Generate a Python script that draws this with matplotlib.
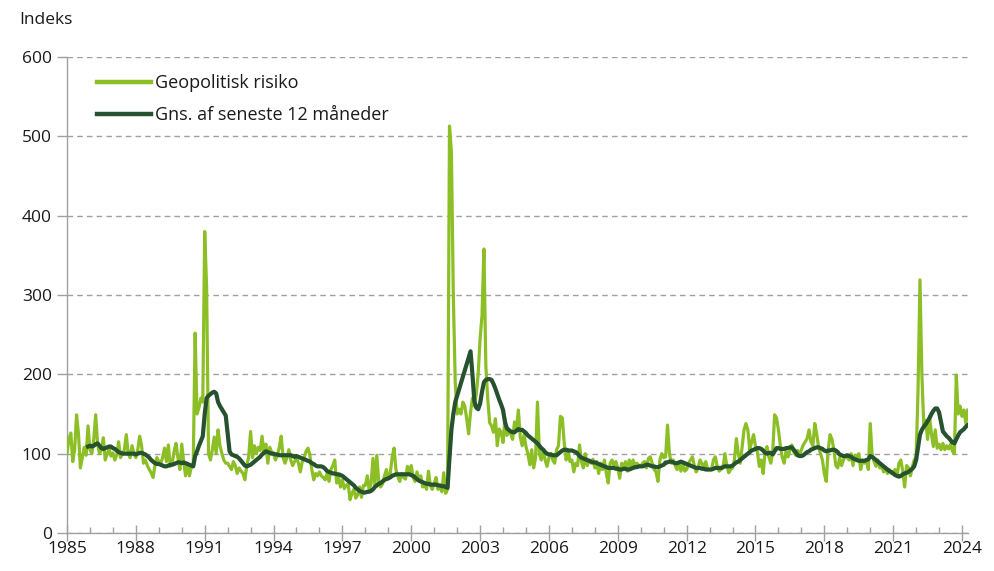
import numpy as np
import matplotlib
matplotlib.use("Agg")
import matplotlib.pyplot as plt
from matplotlib.ticker import MultipleLocator

plt.rcParams['font.family'] = ['Open Sans', 'DejaVu Sans']

start_year = 1985
label_risk = "Geopolitisk risiko"
label_avg = "Gns. af seneste 12 måneder"
y_label = "Indeks"

# Monthly index, Jan 1985 - Apr 2024
risk_1985_1994 = [
    100, 118, 126, 90, 105, 149, 125, 82, 95, 108, 98, 135,
    105, 100, 118, 149, 112, 100, 105, 120, 92, 100, 106, 97,
    101, 92, 98, 115, 95, 100, 105, 124, 100, 95, 110, 100,
    95, 105, 122, 110, 88, 92, 85, 80, 76, 70, 85, 95,
    90, 88, 95, 107, 90, 111, 84, 88, 103, 113, 95, 80,
    112, 90, 72, 88, 72, 83, 85, 252, 150, 158, 170, 165,
    380, 310, 100, 92, 105, 121, 100, 130, 110, 100, 92, 88,
    88, 84, 80, 90, 85, 75, 82, 78, 75, 67, 85, 96,
    128, 95, 110, 100, 108, 104, 122, 100, 112, 88, 108, 102,
    100, 92, 98, 108, 122, 95, 88, 95, 105, 92, 85, 90,
]
risk_1995_2004 = [
    95, 88, 77, 90, 95, 103, 107, 98, 80, 67, 75, 72,
    77, 72, 70, 67, 75, 65, 80, 85, 92, 63, 70, 58,
    67, 56, 60, 62, 42, 50, 55, 44, 48, 58, 45, 60,
    60, 72, 55, 62, 94, 60, 98, 65, 58, 62, 72, 80,
    68, 75, 95, 107, 80, 71, 65, 75, 70, 68, 84, 75,
    85, 70, 65, 77, 68, 72, 58, 62, 55, 78, 60, 55,
    62, 70, 55, 60, 52, 76, 50, 55, 513, 480, 300, 190,
    150, 156, 150, 165, 160, 144, 125, 152, 170, 160, 175, 200,
    245, 274, 358, 211, 169, 139, 135, 127, 144, 110, 131, 127,
    114, 144, 123, 130, 125, 118, 140, 130, 155, 121, 110, 124,
]
risk_2005_2014 = [
    109, 100, 86, 105, 82, 95, 165, 100, 92, 105, 92, 84,
    95, 100, 92, 88, 105, 110, 147, 145, 113, 92, 105, 90,
    92, 77, 88, 85, 111, 90, 82, 100, 85, 92, 88, 93,
    82, 90, 75, 88, 80, 92, 75, 63, 88, 92, 85, 90,
    82, 69, 88, 82, 90, 78, 92, 84, 92, 84, 88, 85,
    84, 88, 90, 82, 94, 96, 88, 80, 77, 65, 92, 100,
    95, 96, 136, 100, 88, 92, 85, 80, 88, 78, 88, 78,
    80, 88, 92, 96, 85, 77, 82, 92, 88, 82, 90, 80,
    80, 80, 92, 96, 84, 78, 80, 82, 100, 85, 76, 80,
    82, 92, 119, 100, 88, 108, 130, 138, 130, 105, 115, 124,
]
risk_2015_2024 = [
    109, 102, 84, 92, 75, 101, 109, 96, 88, 102, 149, 145,
    130, 110, 95, 88, 103, 96, 104, 111, 102, 98, 104, 98,
    105, 111, 115, 119, 130, 115, 110, 138, 125, 108, 100, 92,
    75, 65, 105, 124, 118, 105, 85, 82, 95, 85, 92, 98,
    95, 92, 100, 85, 98, 92, 100, 80, 92, 88, 92, 80,
    138, 98, 90, 84, 92, 82, 84, 77, 82, 75, 80, 75,
    75, 80, 72, 88, 92, 78, 58, 85, 82, 72, 83, 92,
    96, 180, 319, 200, 135, 142, 118, 147, 125, 109, 130, 107,
    112, 105, 113, 105, 110, 106, 112, 103, 100, 199, 150, 160,
    147, 155, 138, 155,
]

# 12-month average, Dec 1985 - Apr 2024
avg_start_month = 11  # index of Dec 1985
avg_1985_1994 = [
    109,
    110, 109, 110, 112, 113, 110, 107, 106, 107, 108, 109, 109,
    107, 106, 104, 102, 101, 100, 100, 100, 100, 100, 100, 100,
    99, 100, 101, 101, 100, 99, 97, 95, 92, 90, 88, 87,
    87, 86, 85, 84, 84, 85, 86, 86, 87, 88, 89, 89,
    88, 89, 88, 87, 86, 85, 84, 97, 103, 110, 116, 122,
    150, 170, 173, 175, 177, 178, 176, 165, 160, 156, 152, 148,
    126, 103, 99, 98, 97, 96, 94, 91, 88, 85, 84, 85,
    86, 88, 90, 92, 94, 96, 99, 101, 103, 102, 101, 100,
    100, 99, 99, 98, 98, 98, 98, 98, 98, 98, 97, 96,
]
avg_1995_2004 = [
    97, 96, 95, 94, 93, 92, 91, 90, 88, 87, 85, 84,
    84, 84, 83, 81, 78, 77, 76, 75, 75, 74, 74, 73,
    72, 70, 68, 66, 64, 62, 60, 57, 55, 53, 52, 51,
    51, 52, 52, 53, 55, 58, 60, 62, 63, 65, 67, 68,
    69, 70, 72, 73, 74, 74, 74, 74, 74, 74, 74, 74,
    73, 72, 70, 68, 66, 65, 64, 63, 62, 62, 61, 61,
    61, 61, 60, 60, 59, 59, 58, 57, 95, 130, 150, 165,
    173, 181, 189, 197, 205, 213, 221, 229, 200, 166, 158, 156,
    163, 178, 190, 193, 194, 194, 193, 188, 182, 175, 168, 162,
    155, 140, 132, 130, 128, 127, 127, 129, 131, 130, 130, 128,
]
avg_2005_2014 = [
    126, 123, 121, 119, 117, 115, 113, 110, 107, 105, 102, 100,
    99, 99, 98, 98, 98, 100, 102, 104, 105, 105, 104, 104,
    104, 103, 102, 100, 97, 95, 94, 93, 92, 91, 90, 89,
    89, 88, 87, 86, 85, 84, 83, 82, 82, 82, 82, 81,
    81, 80, 80, 81, 81, 80, 80, 81, 82, 83, 83, 84,
    84, 84, 85, 86, 86, 85, 84, 84, 83, 83, 84, 85,
    86, 89, 89, 90, 90, 89, 88, 88, 89, 90, 89, 88,
    87, 86, 85, 84, 83, 82, 82, 82, 81, 81, 80, 80,
    80, 80, 81, 82, 82, 82, 82, 83, 84, 84, 84, 84,
    85, 87, 89, 90, 92, 94, 96, 98, 100, 102, 104, 105,
]
avg_2015_2024 = [
    106, 107, 107, 106, 104, 101, 100, 101, 101, 99, 103, 107,
    107, 106, 106, 106, 107, 107, 108, 108, 105, 102, 98, 97,
    97, 98, 100, 102, 103, 105, 106, 107, 108, 108, 107, 106,
    104, 103, 104, 104, 105, 105, 104, 102, 99, 98, 97, 97,
    98, 97, 96, 94, 93, 92, 91, 91, 91, 91, 92, 93,
    97, 96, 94, 92, 90, 88, 86, 84, 82, 80, 78, 77,
    75, 73, 72, 71, 72, 74, 75, 76, 77, 79, 81, 84,
    92, 108, 124, 130, 134, 137, 141, 145, 150, 154, 157, 157,
    152, 140, 128, 125, 122, 120, 117, 114, 113, 118, 123, 127,
    129, 131, 134, 136,
]

x_tick_years = list(range(1985, 2025, 3))
y_ticks = [0, 100, 200, 300, 400, 500, 600]

risk = np.array(risk_1985_1994 + risk_1995_2004 + risk_2005_2014 + risk_2015_2024, dtype=float)
avg = np.array(avg_1985_1994 + avg_1995_2004 + avg_2005_2014 + avg_2015_2024, dtype=float)
t_risk = start_year + np.arange(len(risk)) / 12.0
t_avg = start_year + (avg_start_month + np.arange(len(avg))) / 12.0

light = '#8cbf26'
dark = '#27522f'
grid_c = '#a0a0a0'
text_c = '#1a1a1a'

fig = plt.figure(figsize=(9.94, 5.71), dpi=100)
ax = fig.add_axes([67/994, 1-533/571, (968-67)/994, (533-57)/571])

ax.plot(t_risk, risk, color=light, lw=2.3, label=label_risk, solid_joinstyle='round', zorder=3)
ax.plot(t_avg, avg, color=dark, lw=3.0, label=label_avg, solid_joinstyle='round', zorder=4)

ax.set_ylim(0, 600)
ax.set_xlim(start_year, t_risk[-1] + 0.01)
ax.set_yticks(y_ticks)
ax.set_xticks(x_tick_years)
ax.xaxis.set_minor_locator(MultipleLocator(1))

for s in ['top', 'right']:
    ax.spines[s].set_visible(False)
for s in ['left', 'bottom']:
    ax.spines[s].set_color(grid_c)
    ax.spines[s].set_linewidth(1.0)

ax.yaxis.grid(True, color=grid_c, linestyle=(0, (4, 3)), linewidth=1.0)
ax.set_axisbelow(True)

ax.tick_params(axis='y', which='major', length=7, width=1.0, color=grid_c,
               labelsize=12.5, labelcolor=text_c, pad=4)
ax.tick_params(axis='x', which='major', direction='inout', length=11, width=1.0,
               color=grid_c, labelsize=12.5, labelcolor=text_c, pad=0)
ax.tick_params(axis='x', which='minor', direction='in', length=4, width=1.0, color=grid_c)

fig.text(19/994, 1-20/571, y_label, fontsize=12.5, color=text_c, va='center', ha='left')

leg = ax.legend(loc='upper left', bbox_to_anchor=(0.019, 0.99), frameon=False,
                fontsize=13, handlelength=3.0, handletextpad=0.25, labelspacing=0.78,
                borderaxespad=0.3)
for h in leg.get_lines():
    h.set_linewidth(3.2)
for t in leg.get_texts():
    t.set_color(text_c)

fig.savefig('out.png', dpi=100)
